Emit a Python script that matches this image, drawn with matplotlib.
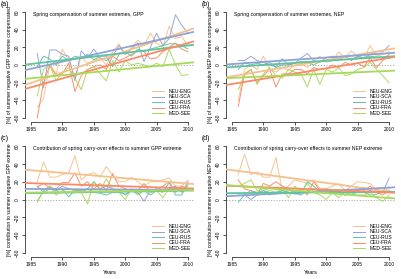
import numpy as np
import matplotlib.pyplot as plt

plt.rcParams['font.family'] = ['Liberation Sans', 'DejaVu Sans']

years = list(range(1986, 2011))
regions = ["NEU-ENG", "NEU-SCA", "CEU-RUS", "CEU-FRA", "MED-SEE"]
colors = ["#f5c08c", "#8fa3d6", "#5ec4a0", "#fb8a66", "#a8d95a"]

# (a) spring compensation, GPP
gpp_comp_eng = [-48, -38, 0, -10, 18, 5, -15, 10, 2, 5, 8, 0, 15, 24, 12, 20, 28, 22, 36, 25, 20, 44, 30, 32, 22]
gpp_comp_sca = [13, -26, 17, 17, 12, 10, -18, 16, 8, 18, 8, 5, 10, 22, 12, 18, 25, 4, 20, 36, 22, 30, 57, 45, 36]
gpp_comp_rus = [-2, 10, 7, 0, 10, 5, 10, 8, 12, 6, 10, 10, -2, 12, 15, 10, 18, 15, 18, 20, 22, 24, 24, 22, 18]
gpp_comp_fra = [-60, -20, 0, -12, -10, 2, -30, -12, -5, -2, 0, -5, 10, 5, 8, 12, 16, 15, 7, 8, 15, 20, 25, 18, 15]
gpp_comp_see = [-35, -5, 0, -18, -8, -3, -15, -28, -5, -2, -10, -18, 5, -8, 5, 0, 2, 0, -2, 2, -2, 18, 0, -12, -11]

# (b) spring compensation, NEP
nep_comp_eng = [-40, -5, 0, -5, 10, -5, -8, -3, -6, 0, 2, -3, 5, 10, 3, 5, 15, 8, 16, 10, 8, 22, 10, 12, 15]
nep_comp_sca = [5, 5, 10, 5, 3, 0, -2, 7, 0, 2, 8, 13, 5, 3, 8, 10, 8, 10, 5, 10, 8, 12, 15, 15, 22]
nep_comp_rus = [-5, 3, 0, 2, 0, 3, -3, 0, 0, 2, 4, 3, 0, 4, 5, 5, 8, 6, 7, 9, 8, 10, 9, 8, 8]
nep_comp_fra = [-47, -10, -5, -20, -12, -5, -25, -10, -10, -5, -5, -10, -3, -5, -4, 0, -3, 3, 0, 2, -2, 8, -3, 5, 12]
nep_comp_see = [-28, -12, -5, -22, -10, -3, -12, -15, -5, -8, -10, -25, -5, -22, -5, -8, -3, -12, -10, -5, -3, 3, -5, -12, -20]

# (c) carry-over contribution, GPP
gpp_cont_eng = [20, 42, 25, 25, 28, 30, 49, 22, 28, 30, 25, 37, 27, 20, 20, 25, 20, 15, 20, 20, 22, 24, 15, 15, 22]
gpp_cont_sca = [15, 8, 12, 10, 15, 12, 10, 10, 12, 20, 12, 15, 12, 10, 5, 10, 8, -2, 10, 12, 10, 12, 15, 8, 20]
gpp_cont_rus = [-2, 10, 15, 10, 12, 3, 10, 8, 12, 8, 7, 5, 8, 8, 6, 10, 6, 10, 5, 10, 8, 19, 5, 5, 18]
gpp_cont_fra = [14, 18, 13, 12, 19, 19, 30, 15, 20, 12, 18, 10, 29, 15, 12, 10, 10, 18, 8, 10, 15, 20, 8, 15, 12]
gpp_cont_see = [-3, 10, 15, 5, 10, 12, 10, 8, -5, 20, 10, 23, 12, 8, 0, 12, 5, 10, 8, 10, 2, 12, 12, 10, 15]

# (d) carry-over contribution, NEP
nep_cont_eng = [28, 51, 28, 31, 25, 25, 47, 10, 15, 22, 20, 18, 22, 12, 12, 15, 18, 10, 15, 20, 19, 18, 10, 10, 12]
nep_cont_sca = [5, 5, 0, 5, 10, 8, 6, 10, 8, 7, 5, 10, 12, 10, 7, 10, 9, 10, 8, 10, 12, 10, 12, 8, 24]
nep_cont_rus = [-3, 5, 10, 8, 10, 5, 8, 10, 8, 6, 7, 20, 15, 8, 7, 9, 10, 5, 6, 8, 8, 5, 6, 8, 8]
nep_cont_fra = [22, 12, 10, 5, 18, 15, 20, 15, 12, 8, 12, 5, 20, 10, 12, 10, 8, 5, 10, 8, 10, 15, 8, 5, 10]
nep_cont_see = [15, 18, 22, 10, 12, 10, 8, 12, 2, 15, 8, 18, 8, 5, 0, 8, 2, 10, 5, 5, 5, 8, 2, -2, 5]

panels = [
    ("(a)", "Spring compensation of summer extremes, GPP",
     "[%] of summer negative GPP extreme compensated",
     [gpp_comp_eng, gpp_comp_sca, gpp_comp_rus, gpp_comp_fra, gpp_comp_see]),
    ("(b)", "Spring compensation of summer extremes, NEP",
     "[%] of summer negative NEP extreme compensated",
     [nep_comp_eng, nep_comp_sca, nep_comp_rus, nep_comp_fra, nep_comp_see]),
    ("(c)", "Contribution of spring carry-over effects to summer GPP extreme",
     "[%] contribution to summer negative GPP extreme",
     [gpp_cont_eng, gpp_cont_sca, gpp_cont_rus, gpp_cont_fra, gpp_cont_see]),
    ("(d)", "Contribution of spring carry-over effects to summer NEP extreme",
     "[%] contribution to summer negative NEP extreme",
     [nep_cont_eng, nep_cont_sca, nep_cont_rus, nep_cont_fra, nep_cont_see]),
]

W, H = 402, 279
fig = plt.figure(figsize=(W / 100, H / 100), dpi=100)

# pixel boxes (left, top, right, bottom) of the plot regions
boxes = [(24.7, 7.8, 194.3, 122.2), (225.7, 7.8, 395.3, 122.2),
         (24.7, 141.7, 194.3, 257.3), (225.7, 141.7, 395.3, 257.3)]

xs = np.array(years)
xline = np.array([1984, 2011])

for i, (tag, title, ylab, series) in enumerate(panels):
    l, t, r, b = boxes[i]
    ax = fig.add_axes([l / W, 1 - b / H, (r - l) / W, (b - t) / H])
    ax.axhline(0, color='#aaaaaa', lw=0.8, ls=(0, (1, 1.5)), zorder=1)
    for vals, c in zip(series, colors):
        ax.plot(xs, vals, color=c, lw=0.7, alpha=0.95, zorder=2)
    for vals, c in zip(series, colors):
        k, d = np.polyfit(xs, vals, 1)
        ax.plot(xline, k * xline + d, color=c, lw=1.3, zorder=3)
    ax.set_xlim(1984, 2011)
    ax.set_ylim(-64.8, 64.8)
    ax.set_xticks(range(1985, 2011, 5))
    ax.set_yticks(range(-60, 61, 20))
    for s in ['top', 'right']:
        ax.spines[s].set_visible(False)
    ax.spines['left'].set_bounds(-60, 60)
    ax.spines['bottom'].set_bounds(1985, 2010)
    for s in ['left', 'bottom']:
        ax.spines[s].set_linewidth(0.6)
        ax.spines[s].set_color('#333333')
    ax.tick_params(length=2.2, width=0.6, color='#333333', labelsize=3.5, pad=1.5)
    for lab in ax.get_yticklabels():
        lab.set_rotation(90)
        lab.set_va('center')
    ax.set_ylabel(ylab, fontsize=3.6, labelpad=2)
    ax.text(0.05, 0.945, title, transform=ax.transAxes, fontsize=3.7, va='center', ha='left')
    handles = [plt.Line2D([], [], color=c, lw=0.7) for c in colors]
    ax.legend(handles, regions, loc='lower right', bbox_to_anchor=(1.0, 0.03),
              frameon=False, fontsize=3.6, handlelength=2.4, handletextpad=0.9,
              labelspacing=0.1, borderaxespad=0.2)
    if i >= 2:
        ax.set_xlabel("Years", fontsize=4, labelpad=2)
    fig.text((l - 24) / W, 1 - (t - 3) / H, tag, fontsize=5, va='center', ha='left')

fig.savefig("out.png", dpi=100)
